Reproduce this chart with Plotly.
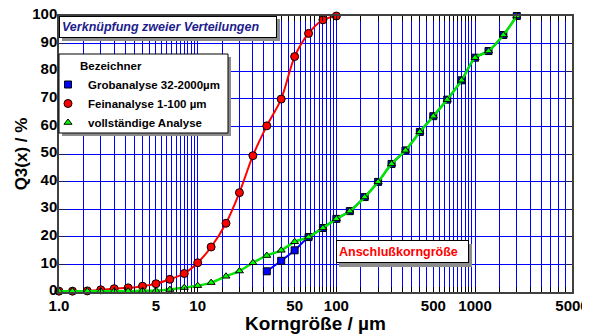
import math
import plotly.graph_objects as go

# ---- data ----
size_fine = [1, 1.25, 1.6, 2, 2.5, 3.15, 4, 5, 6.3, 8, 10, 12.5, 16, 20, 25, 31.5, 40, 50, 63, 80, 100]
q3_fine = [0.3, 0.3, 0.4, 0.8, 1.2, 1.5, 2.1, 3.0, 4.6, 6.7, 10.6, 16.3, 24.9, 36.0, 49.4, 60.2, 69.9, 85.3, 93.7, 98.6, 100]

size_coarse = [31.5, 40, 50, 63, 80, 100, 125, 160, 200, 250, 315, 400, 500, 630, 800, 1000, 1250, 1600, 2000]
q3_coarse = [7.5, 11.3, 15.1, 19.9, 23.2, 26.5, 29.3, 34.4, 39.9, 46.4, 51.3, 58.0, 63.7, 69.7, 76.7, 84.9, 87.3, 93.1, 100]

size_total = [1, 1.25, 1.6, 2, 2.5, 3.15, 4, 5, 6.3, 8, 10, 12.5, 16, 20, 25, 31.5, 40, 50,
              63, 80, 100, 125, 160, 200, 250, 315, 400, 500, 630, 800, 1000, 1250, 1600, 2000]
q3_total = [0.3, 0.3, 0.3, 0.3, 0.3, 0.3, 0.5, 0.5, 0.9, 1.6, 2.3, 3.4, 5.7, 7.6, 10.6, 13.2, 15.1, 18.2,
            19.9, 23.2, 26.5, 29.3, 34.4, 39.9, 46.4, 51.3, 58.0, 63.7, 69.7, 76.7, 84.9, 87.3, 93.1, 100]

series_names = ["Grobanalyse 32-2000µm", "Feinanalyse 1-100 µm", "vollständige Analyse"]
legend_heading = "Bezeichner"

x_tick_vals = [1, 5, 10, 50, 100, 500, 1000, 5000]
x_tick_text = ["1.0", "5", "10", "50", "100", "500", "1000", "5000"]
y_tick_vals = [0, 10, 20, 30, 40, 50, 60, 70, 80, 90, 100]

x_min, x_max = 1, 5000
# minor grid every half unit of each decade (1.5, 2, 2.5 ... 9.5, 15, 20 ...)
minor_vals = [m * 0.5 * 10 ** d for d in range(0, 4) for m in range(3, 20)]
minor_vals = [v for v in minor_vals if v < x_max and v not in x_tick_vals]

FONT = "Liberation Sans, Arial, sans-serif"
GRID = "#0000ff"
SHADOW = "#8c8c8c"
PLOT_W, PLOT_H = 513, 276

series = [
    dict(x=size_coarse, y=q3_coarse, name=series_names[0], lc="#0000ff", lw=2,
         sym="square", ms=7, mc="#0000ff"),
    dict(x=size_fine, y=q3_fine, name=series_names[1], lc="#ff0000", lw=2,
         sym="circle", ms=8, mc="#ff0000"),
    dict(x=size_total, y=q3_total, name=series_names[2], lc="#00e600", lw=2.5,
         sym="triangle-up", ms=7, mc="#00ff00"),
]

fig = go.Figure()
for s in series:
    fig.add_trace(go.Scatter(
        x=s["x"], y=s["y"], name=s["name"], mode="lines", showlegend=False,
        legendgroup=s["name"], hoverinfo="skip",
        line=dict(color=s["lc"], width=s["lw"], shape="spline", smoothing=0.8),
        cliponaxis=False))
    fig.add_trace(go.Scatter(
        x=s["x"], y=s["y"], name=s["name"], mode="markers", legendgroup=s["name"],
        marker=dict(symbol=s["sym"], size=s["ms"], color=s["mc"], line=dict(color="#000000", width=1)),
        cliponaxis=False))

fig.update_xaxes(
    type="log", range=[math.log10(x_min), math.log10(x_max)],
    tickmode="array", tickvals=x_tick_vals, ticktext=x_tick_text,
    tickfont=dict(family=FONT, size=15, color="#000000", weight="bold"),
    ticklabeloverflow="allow", ticklabelstandoff=-1,
    showgrid=True, gridcolor=GRID, gridwidth=1,
    ticks="inside", ticklen=5, tickcolor="#000000", tickwidth=1,
    minor=dict(tickmode="array", tickvals=minor_vals, showgrid=True, gridcolor=GRID, gridwidth=1,
               ticks="inside", ticklen=5, tickcolor="#000000"),
    showline=True, linecolor="#404040", linewidth=2, mirror="ticks",
    zeroline=False, automargin=False,
    title=dict(text="Korngröße / µm",
               font=dict(family=FONT, size=19, color="#000000", weight="bold"),
               standoff=7),
)

fig.update_yaxes(
    range=[0, 100], tickmode="array", tickvals=y_tick_vals,
    tickfont=dict(family=FONT, size=15, color="#000000", weight="bold"),
    ticklabeloverflow="allow", ticklabelstandoff=-3, ticklabelshift=-2,
    showgrid=True, gridcolor=GRID, gridwidth=1,
    ticks="inside", ticklen=8, tickcolor="#1a1a6e", tickwidth=1,
    showline=True, linecolor="#404040", linewidth=1.5, mirror="ticks",
    zeroline=False, automargin=False,
    title=dict(text="Q3(x) / %", font=dict(family=FONT, size=17, color="#000000", weight="bold"),
               standoff=0),
)

# legend frame with drop shadow (pixel offsets from the plot's top-left corner)
legend_w, legend_h, legend_top = 169, 79, 38
legend_items_top = 54

annotations = [
    # title box shadow + box
    dict(xref="paper", yref="paper", x=0, y=1, xanchor="left", yanchor="top", text=" ",
         width=212, height=16, borderpad=2, borderwidth=1, bordercolor=SHADOW,
         bgcolor=SHADOW, showarrow=False, xshift=3, yshift=-3),
    dict(xref="paper", yref="paper", x=0, y=1, xanchor="left", yanchor="top",
         text="Verknüpfung zweier Verteilungen", align="left",
         font=dict(family=FONT, size=12.5, color="#1c1c8c", weight="bold", style="italic"),
         width=212, height=16, borderpad=2, borderwidth=1, bordercolor="#000000",
         bgcolor="#ffffff", showarrow=False),
    # connecting size label
    dict(xref="x", yref="y", x=2, y=19, xanchor="left", yanchor="top", text=" ",
         width=127, height=17, borderpad=2, borderwidth=1, bordercolor=SHADOW,
         bgcolor=SHADOW, showarrow=False, xshift=3, yshift=-4),
    dict(xref="x", yref="y", x=2, y=19, xanchor="left", yanchor="top",
         text="Anschlußkorngröße", align="left",
         font=dict(family=FONT, size=12.5, color="#ff0000", weight="bold"),
         width=127, height=17, borderpad=2, borderwidth=1, bordercolor="#000000",
         bgcolor="#ffffff", showarrow=False),
    # legend heading
    dict(xref="paper", yref="paper", x=19 / PLOT_W, y=1 - 50 / PLOT_H, xanchor="left", yanchor="middle",
         text=legend_heading, showarrow=False,
         font=dict(family=FONT, size=11.5, color="#000000", weight="bold")),
]

shapes = [
    dict(type="rect", xref="paper", yref="paper", xsizemode="pixel", ysizemode="pixel",
         xanchor=0, yanchor=1, x0=3, x1=legend_w + 3, y0=-(legend_top + 3), y1=-(legend_top + legend_h + 3),
         fillcolor=SHADOW, line=dict(width=0), layer="above"),
    dict(type="rect", xref="paper", yref="paper", xsizemode="pixel", ysizemode="pixel",
         xanchor=0, yanchor=1, x0=0, x1=legend_w, y0=-legend_top, y1=-(legend_top + legend_h),
         fillcolor="#ffffff", line=dict(width=1, color="#000000"), layer="above"),
]

# The page body keeps its default 8 px margin, so the figure is sized to fit the 590x334 window.
fig.update_layout(
    width=582, height=326, autosize=False,
    margin=dict(l=51, r=18, t=8, b=42),
    paper_bgcolor="#ffffff", plot_bgcolor="#ffffff",
    font=dict(family=FONT, color="#000000"),
    showlegend=True,
    legend=dict(
        x=-11 / PLOT_W, xanchor="left", y=1 - legend_items_top / PLOT_H, yanchor="top",
        bgcolor="rgba(0,0,0,0)", borderwidth=0,
        font=dict(family=FONT, size=11.5, color="#000000", weight="bold"),
        tracegroupgap=0,
    ),
    annotations=annotations,
    shapes=shapes,
)

fig.write_html("out.html", config={"displayModeBar": False})
